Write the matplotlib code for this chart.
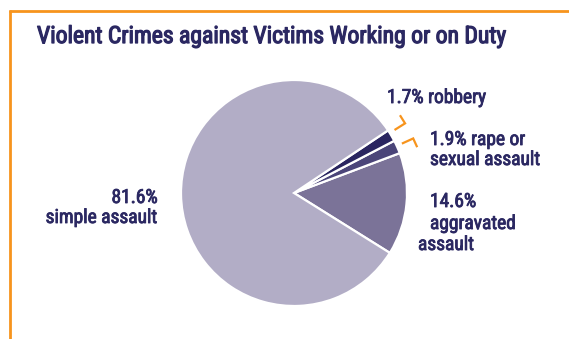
import numpy as np
import matplotlib
matplotlib.use('Agg')
import matplotlib.pyplot as plt
import matplotlib.patheffects as pe
from matplotlib import font_manager
from matplotlib.lines import Line2D

# data, in drawing order (counter-clockwise from the lower right)
categories = ['aggravated assault', 'rape or sexual assault', 'robbery', 'simple assault']
shares = [14.6, 1.9, 1.7, 81.6]
colors = ['#7b7398', '#4b4579', '#2a2560', '#b2adc6']
title = 'Violent Crimes against Victims Working or on Duty'

navy = '#2b2862'
orange = '#f7941d'

names = {f.name for f in font_manager.fontManager.ttflist}
font = 'Roboto'
for cand in ['Liberation Sans Narrow', 'DejaVu Sans Condensed', 'Roboto Condensed']:
    if cand in names:
        font = cand
        break
plt.rcParams['font.family'] = [font, 'DejaVu Sans']

W, H = 569, 339
fig = plt.figure(figsize=(W / 100, H / 100), dpi=100)
ax = fig.add_axes([0, 0, 1, 1])

cx, cy, R = 294, 193, 113   # pie centre / radius in pixels


def px(x, y):
    return (x - cx) / R, (cy - y) / R


wedges, _ = ax.pie(shares, colors=colors, startangle=-32, counterclock=True,
                   wedgeprops=dict(edgecolor='white', linewidth=1.6))
ax.set_xlim(-cx / R, (W - cx) / R)
ax.set_ylim(-(H - cy) / R, cy / R)
ax.set_aspect('equal')
ax.axis('off')

# orange elbow marks next to the two thin wedges
for w, sign in [(wedges[2], 1), (wedges[1], -1)]:
    mid = np.deg2rad((w.theta1 + w.theta2) / 2 + (1.5 if sign > 0 else 0.5))
    r0 = 1.16
    vx, vy = r0 * np.cos(mid), r0 * np.sin(mid)
    ux, uy = np.cos(mid), np.sin(mid)
    tx, ty = -uy * sign, ux * sign
    ax.plot([vx - 0.11 * ux, vx, vx + 0.085 * tx], [vy - 0.11 * uy, vy, vy + 0.085 * ty],
            color=orange, lw=1.6, solid_joinstyle='miter', solid_capstyle='butt')

fs = 14
thick = [pe.withStroke(linewidth=0.6, foreground=navy)]
labels = [
    (387, 103, '1.7% robbery', 'left'),
    (430, 145, '1.9% rape or', 'left'),
    (430, 165, 'sexual assault', 'left'),
    (430, 207, '14.6%', 'left'),
    (430, 229, 'aggravated', 'left'),
    (418, 250, 'assault', 'left'),
    (158, 203, '81.6%', 'right'),
    (158, 223, 'simple assault', 'right'),
]
for x, y, s, ha in labels:
    ax.text(*px(x, y), s, color=navy, fontsize=fs, va='baseline', ha=ha, path_effects=thick)

t = fig.text(37 / W, 1 - 43 / H, title, color=navy, fontsize=16, va='baseline',
             path_effects=[pe.withStroke(linewidth=0.9, foreground=navy)])
fig.canvas.draw()
bw = t.get_window_extent().width
t.set_fontsize(16 * 470 / bw)

# orange frame on top and left
fig.add_artist(Line2D([9 / W, 1], [1 - 11 / H, 1 - 11 / H], transform=fig.transFigure,
                      color=orange, lw=2, solid_capstyle='butt'))
fig.add_artist(Line2D([10 / W, 10 / W], [1 - 10 / H, 0], transform=fig.transFigure,
                      color=orange, lw=2, solid_capstyle='butt'))

fig.savefig('out.png', dpi=100)
